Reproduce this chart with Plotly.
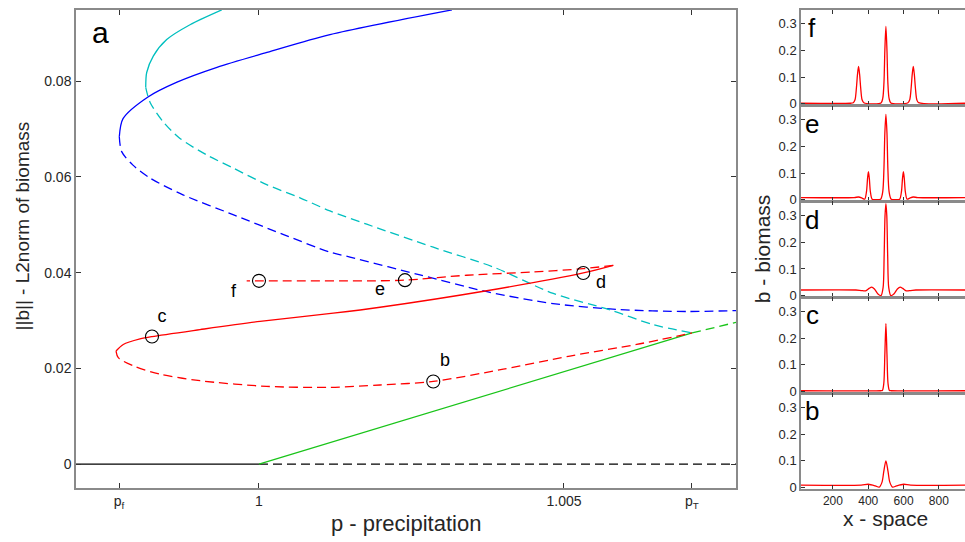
import plotly.graph_objects as go

# ---------------- main panel data (p, ||b||) ----------------
zero_solid_p = [0.99700, 1.00000]
zero_solid_b = [0.0, 0.0]
zero_dash_p = [1.00000, 1.00782]
zero_dash_b = [0.0, 0.0]

green_solid_p = [1.00000, 1.00710]
green_solid_b = [0.0, 0.02740]
green_dash_p = [1.00710, 1.00783]
green_dash_b = [0.02740, 0.02965]

blue_solid_p = [0.997710, 0.997771, 0.998180, 0.998656, 0.999311, 1.000131, 1.001164, 1.003164]
blue_solid_b = [0.06839, 0.07217, 0.07671, 0.07981, 0.08291, 0.08601, 0.08973, 0.09490]
blue_dash_p = [0.997710, 0.997749, 0.997934, 0.998213, 0.998754, 0.999574, 1.000393, 1.001164,
               1.001492, 1.002639, 1.003738, 1.004820, 1.005918, 1.007016, 1.007836]
blue_dash_b = [0.06839, 0.06529, 0.06246, 0.05977, 0.05626, 0.05213, 0.04800, 0.04428,
               0.04325, 0.03953, 0.03601, 0.03353, 0.03229, 0.03188, 0.03209]

cyan_solid_p = [0.998143, 0.998159, 0.998267, 0.998487, 0.998869, 0.999389]
cyan_solid_b = [0.07872, 0.08182, 0.08525, 0.08870, 0.09180, 0.09490]
cyan_dash_p = [0.998143, 0.998213, 0.998431, 0.998705, 0.999143, 0.999579, 1.000126, 1.000672,
               1.001164, 1.001766, 1.002857, 1.003841, 1.004824, 1.005754, 1.006464, 1.007098]
cyan_dash_b = [0.07872, 0.07562, 0.07149, 0.06804, 0.06459, 0.06184, 0.05839, 0.05564,
               0.05289, 0.05012, 0.04531, 0.04118, 0.03566, 0.03223, 0.02913, 0.02740]

red_solid_p = [0.997656, 0.997775, 0.998049, 0.998246, 0.999033, 1.000016, 1.001218, 1.001984,
               1.003733, 1.005316, 1.005808]
red_solid_b = [0.02362, 0.02500, 0.02616, 0.02665, 0.02810, 0.02981, 0.03153, 0.03277,
               0.03622, 0.03994, 0.04153]
red_low_p = [0.997656, 0.997693, 0.997939, 0.998377, 0.999033, 1.000126, 1.001164, 1.001984,
             1.002857, 1.004005, 1.005098, 1.006192, 1.007098]
red_low_b = [0.02362, 0.02223, 0.02052, 0.01880, 0.01742, 0.01624, 0.01603, 0.01653,
             0.01727, 0.01983, 0.02258, 0.02500, 0.02740]
red_up_p = [1.005808, 1.005316, 1.004497, 1.003405, 1.002393, 1.001820, 1.000016, 0.999798]
red_up_b = [0.04153, 0.04083, 0.04014, 0.03946, 0.03843, 0.03829, 0.03829, 0.03829]

point_names = ["b", "c", "d", "e", "f"]
point_p = [1.002857, 0.998246, 1.005316, 1.002393, 1.000000]
point_b = [0.01727, 0.02665, 0.03994, 0.03843, 0.03829]
label_p = [1.003049, 0.998410, 1.005606, 1.001984, 0.999582]
label_b = [0.02134, 0.03064, 0.03767, 0.03622, 0.03580]

main_xtick_vals = [0.997705, 1.0, 1.005, 1.007098]
main_xtick_text = ["p<sub>f</sub>", "1", "1.005", "p<sub>T</sub>"]
main_ytick_vals = [0, 0.02, 0.04, 0.06, 0.08]
main_ytick_text = ["0", "0.02", "0.04", "0.06", "0.08"]

# ---------------- right panels: biomass profiles b(x) ----------------
prof_f_x = [19, 300, 315, 325, 333, 339, 345, 351, 357, 365, 375, 472, 482, 489, 494, 500, 506, 511,
            518, 528, 625, 635, 643, 649, 655, 661, 667, 675, 685, 948]
prof_f_y = [0.002, 0.002, 0.004, 0.015, 0.06, 0.11, 0.14, 0.11, 0.06, 0.015, 0.004, 0.003, 0.02, 0.08,
            0.20, 0.29, 0.20, 0.08, 0.02, 0.003, 0.004, 0.015, 0.06, 0.11, 0.14, 0.11, 0.06, 0.015,
            0.004, 0.002]

prof_e_x = [19, 320, 345, 365, 380, 390, 396, 401, 406, 412, 422, 440, 470, 482, 489, 494, 500, 506,
            511, 518, 530, 560, 578, 588, 594, 599, 604, 610, 620, 635, 655, 680, 948]
prof_e_y = [0.008, 0.008, 0.010, 0.006, 0.002, 0.03, 0.08, 0.105, 0.08, 0.03, 0.002, 0.0, 0.002,
            0.03, 0.12, 0.25, 0.32, 0.25, 0.12, 0.03, 0.002, 0.0, 0.002, 0.03, 0.08, 0.105, 0.08,
            0.03, 0.002, 0.006, 0.010, 0.008, 0.008]

prof_d_x = [19, 330, 360, 385, 405, 419, 435, 455, 472, 484, 490, 495, 500, 505, 510, 516, 528, 545,
            565, 581, 595, 615, 640, 670, 948]
prof_d_y = [0.021, 0.021, 0.019, 0.018, 0.027, 0.032, 0.025, 0.006, 0.0, 0.03, 0.15, 0.30, 0.345,
            0.30, 0.15, 0.03, 0.0, 0.006, 0.025, 0.032, 0.027, 0.018, 0.019, 0.021, 0.021]

prof_c_x = [19, 470, 480, 488, 494, 500, 506, 512, 520, 530, 948]
prof_c_y = [0.003, 0.003, 0.004, 0.03, 0.14, 0.255, 0.14, 0.03, 0.004, 0.003, 0.003]

prof_b_x = [19, 360, 400, 440, 462, 478, 488, 500, 512, 522, 538, 560, 600, 640, 948]
prof_b_y = [0.009, 0.009, 0.012, 0.006, 0.001, 0.02, 0.06, 0.10, 0.06, 0.02, 0.001, 0.006, 0.012,
            0.009, 0.009]

panel_names = ["f", "e", "d", "c", "b"]
panel_x = [prof_f_x, prof_e_x, prof_d_x, prof_c_x, prof_b_x]
panel_y = [prof_f_y, prof_e_y, prof_d_y, prof_c_y, prof_b_y]
panel_ytick_vals = [0, 0.1, 0.2, 0.3]
panel_ytick_text = ["0", "0.1", "0.2", "0.3"]
panel_xtick_vals = [200, 400, 600, 800]
panel_xtick_text = ["200", "400", "600", "800"]

# ---------------- styling ----------------
W, H = 965, 542
FONT = "Liberation Sans, Arial, Helvetica, sans-serif"
TICKC = "#262626"
FRAME = "#8a8a8a"
RED, BLUE, CYAN, GREEN = "#ff0000", "#0000ff", "#00bfbf", "#19c419"
DASH = "9px,5px"

fig = go.Figure()


def add_line(xs, ys, color, dash=None, xa="x", ya="y", shape="spline"):
    fig.add_trace(go.Scatter(x=xs, y=ys, mode="lines", xaxis=xa, yaxis=ya,
                             line=dict(color=color, width=1.3, dash=dash or "solid",
                                       shape=shape, smoothing=0.8),
                             hoverinfo="skip"))


add_line(zero_solid_p, zero_solid_b, "#000000", shape="linear")
add_line(zero_dash_p, zero_dash_b, "#000000", DASH, shape="linear")
add_line(green_solid_p, green_solid_b, GREEN, shape="linear")
add_line(green_dash_p, green_dash_b, GREEN, DASH, shape="linear")
add_line(blue_solid_p, blue_solid_b, BLUE)
add_line(blue_dash_p, blue_dash_b, BLUE, DASH)
add_line(cyan_solid_p, cyan_solid_b, CYAN)
add_line(cyan_dash_p, cyan_dash_b, CYAN, DASH)
add_line(red_solid_p, red_solid_b, RED)
add_line(red_low_p, red_low_b, RED, DASH)
add_line(red_up_p, red_up_b, RED, DASH)

fig.add_trace(go.Scatter(x=point_p, y=point_b, mode="markers",
                         marker=dict(symbol="circle-open", size=13, color="#000000",
                                     line=dict(width=1.1, color="#000000")),
                         hoverinfo="skip"))
fig.add_trace(go.Scatter(x=label_p, y=label_b, mode="text", text=point_names,
                         textfont=dict(size=18, color="#000000", family=FONT),
                         textposition="middle center", hoverinfo="skip"))

# main axes geometry (pixels)
L, R, T, B = 76, 736, 10, 493
layout = dict(
    width=W, height=H, margin=dict(l=0, r=0, t=0, b=0),
    paper_bgcolor="white", plot_bgcolor="white", showlegend=False,
    font=dict(family=FONT, color=TICKC),
    xaxis=dict(domain=[L / W, R / W], range=[0.99700, 1.00782], tickmode="array",
               tickvals=main_xtick_vals, ticktext=main_xtick_text,
               showgrid=False, zeroline=False, showline=True, linecolor=FRAME, linewidth=1.5,
               mirror="ticks", ticks="inside", ticklen=5, tickcolor="#333333", tickwidth=1,
               tickfont=dict(size=14, color=TICKC), anchor="y"),
    yaxis=dict(domain=[1 - B / H, 1 - T / H], range=[-0.0049, 0.0949], tickmode="array",
               tickvals=main_ytick_vals, ticktext=main_ytick_text,
               showgrid=False, zeroline=False, showline=True, linecolor=FRAME, linewidth=1.5,
               mirror="ticks", ticks="inside", ticklen=5, tickcolor="#333333", tickwidth=1,
               tickfont=dict(size=14, color=TICKC), anchor="x"),
)

panel_tops = [10, 107, 204, 301, 398]
panel_h = 96
PL = 801
annotations = []
for i, (name, xs, ys) in enumerate(zip(panel_names, panel_x, panel_y)):
    k = i + 2
    xa, ya = f"x{k}", f"y{k}"
    add_line(xs, ys, RED, xa=xa, ya=ya, shape="spline")
    top = panel_tops[i]
    last = (name == "b")
    layout[f"xaxis{k}"] = dict(
        domain=[PL / W, 1.0], range=[19, 948], tickmode="array",
        tickvals=panel_xtick_vals, ticktext=panel_xtick_text, showticklabels=last,
        showgrid=False, zeroline=False, showline=True, linecolor=FRAME, linewidth=1.5,
        mirror="ticks", ticks="inside", ticklen=4, tickcolor="#333333",
        tickfont=dict(size=12, color=TICKC), anchor=ya)
    layout[f"yaxis{k}"] = dict(
        domain=[1 - (top + panel_h) / H, 1 - top / H], range=[-0.004, 0.352],
        tickmode="array", tickvals=panel_ytick_vals, ticktext=panel_ytick_text,
        showgrid=False, zeroline=False, showline=True, linecolor=FRAME, linewidth=1.5,
        mirror=False, ticks="inside", ticklen=4, tickcolor="#333333",
        tickfont=dict(size=13, color=TICKC), anchor=xa)
    annotations.append(dict(x=812 / W, y=1 - (top + 18) / H, xref="paper", yref="paper",
                            text=name, showarrow=False, xanchor="center", yanchor="middle",
                            font=dict(size=26, color="#000000", family=FONT)))

annotations += [
    dict(x=100 / W, y=1 - 33 / H, xref="paper", yref="paper", text="a", showarrow=False,
         xanchor="center", yanchor="middle", font=dict(size=30, color="#000000", family=FONT)),
    dict(x=406 / W, y=1 - 529 / H, xref="paper", yref="paper", text="p - precipitation",
         showarrow=False, xanchor="center", yanchor="middle",
         font=dict(size=22, color="#262626", family=FONT)),
    dict(x=22 / W, y=1 - 229 / H, xref="paper", yref="paper", text="||b|| - L2norm of biomass",
         showarrow=False, xanchor="center", yanchor="middle", textangle=-90,
         font=dict(size=19, color="#262626", family=FONT)),
    dict(x=885 / W, y=1 - 524 / H, xref="paper", yref="paper", text="x - space",
         showarrow=False, xanchor="center", yanchor="middle",
         font=dict(size=21, color="#262626", family=FONT)),
    dict(x=762 / W, y=1 - 252 / H, xref="paper", yref="paper", text="b - biomass",
         showarrow=False, xanchor="center", yanchor="middle", textangle=-90,
         font=dict(size=21, color="#262626", family=FONT)),
]
layout["annotations"] = annotations
fig.update_layout(**layout)
fig.write_html("out.html")
